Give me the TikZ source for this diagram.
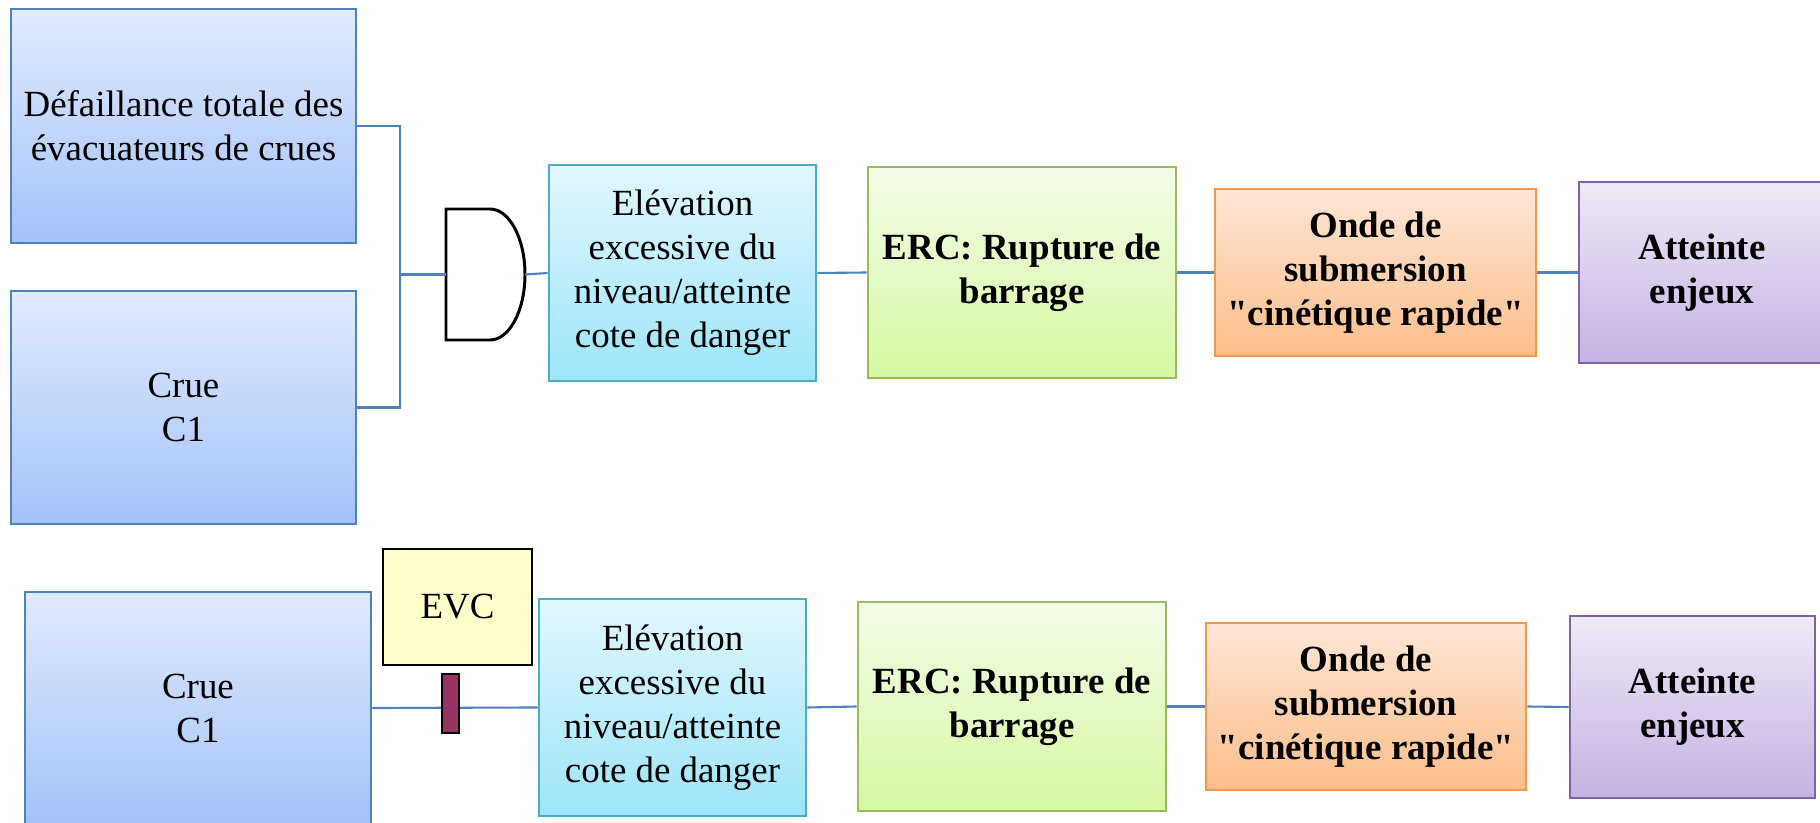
\documentclass[tikz,border=0pt]{standalone}
\usepackage{fontspec}
\setmainfont{Liberation Serif}[Ligatures=TeXOff]

\definecolor{bleuBord}{HTML}{4F81BD}
\definecolor{bleuHaut}{HTML}{E1EBFE}
\definecolor{bleuBas}{HTML}{A4C2F9}
\definecolor{cyanBord}{HTML}{4BACC6}
\definecolor{cyanHaut}{HTML}{E1F7FD}
\definecolor{cyanBas}{HTML}{9DE5FA}
\definecolor{vertBord}{HTML}{9BBB59}
\definecolor{vertHaut}{HTML}{F3FCE8}
\definecolor{vertBas}{HTML}{D6F8A2}
\definecolor{orangeBord}{HTML}{F79646}
\definecolor{orangeHaut}{HTML}{FFE6D6}
\definecolor{orangeBas}{HTML}{FBBE8A}
\definecolor{violetBord}{HTML}{8064A2}
\definecolor{violetHaut}{HTML}{EFE9F7}
\definecolor{violetBas}{HTML}{C5B2E3}
\definecolor{jaunePale}{HTML}{FFFFCC}
\definecolor{bordeaux}{HTML}{993366}

\begin{document}
\begin{tikzpicture}[
    every node/.style={font=\fontsize{10.5}{12.5}\selectfont, align=center, inner sep=0pt},
    evt/.style={draw, line width=0.75pt},
    gras/.style={font=\fontsize{10.5}{12.5}\selectfont\bfseries},
    boiteBleue/.style={evt, draw=bleuBord, top color=bleuHaut, bottom color=bleuBas},
    boiteCyan/.style={evt, draw=cyanBord, top color=cyanHaut, bottom color=cyanBas},
    boiteVerte/.style={evt, gras, draw=vertBord, top color=vertHaut, bottom color=vertBas},
    boiteOrange/.style={evt, gras, draw=orangeBord, top color=orangeHaut, bottom color=orangeBas},
    boiteViolette/.style={evt, gras, draw=violetBord, top color=violetHaut, bottom color=violetBas},
    lien/.style={draw=bleuBord, line width=0.6pt},
    porte/.style={draw=black, fill=white, line width=0.85pt}
  ]
    \useasboundingbox (0,0) rectangle (18.2,-8.23);

    % premiere chaine : porte ET
    \node[boiteBleue, minimum width=3.45cm, minimum height=2.34cm] (Def) at (1.835,-1.26) {Défaillance totale des\\évacuateurs de crues};
    \node[boiteBleue, minimum width=3.45cm, minimum height=2.33cm] (Crue1) at (1.835,-4.075) {Crue\\C1};

    \draw[porte] (4.46,-2.09) -- (4.90,-2.09) arc (90:-90:0.35 and 0.655) -- (4.46,-3.40) -- cycle;
    \coordinate (J) at (4.00,-2.745);
    \coordinate (Pin) at (4.46,-2.745);
    \coordinate (Pout) at (5.25,-2.745);

    \node[boiteCyan, minimum width=2.67cm, minimum height=2.16cm] (Elev1) at (6.825,-2.73) {Elévation\\excessive du\\niveau/atteinte\\cote de danger};
    \node[boiteVerte, minimum width=3.08cm, minimum height=2.11cm] (ERC1) at (10.22,-2.725) {ERC: Rupture de\\barrage};
    \node[boiteOrange, minimum width=3.21cm, minimum height=1.67cm] (Onde1) at (13.755,-2.725) {Onde de\\submersion\\"cinétique rapide"};
    \node[boiteViolette, minimum width=2.46cm, minimum height=1.81cm] (Att1) at (17.02,-2.725) {Atteinte\\enjeux};

    \draw[lien] (Def.east) -| (J) |- (Crue1.east);
    \draw[lien] (J) -- (Pin);
    \draw[lien] (Pout) -- (Elev1.west);
    \draw[lien] (Elev1.east) -- (ERC1.west);
    \draw[lien] (ERC1.east) -- (Onde1.west);
    \draw[lien] (Onde1.east) -- (Att1.west);

    % seconde chaine : barriere EVC
    \node[boiteBleue, minimum width=3.46cm, minimum height=2.32cm] (Crue2) at (1.98,-7.08) {Crue\\C1};
    \node[evt, draw=black, fill=jaunePale, minimum width=1.49cm, minimum height=1.16cm] (EVC) at (4.575,-6.07) {EVC};
    \node[boiteCyan, minimum width=2.67cm, minimum height=2.17cm] (Elev2) at (6.725,-7.075) {Elévation\\excessive du\\niveau/atteinte\\cote de danger};
    \node[boiteVerte, minimum width=3.08cm, minimum height=2.09cm] (ERC2) at (10.12,-7.065) {ERC: Rupture de\\barrage};
    \node[boiteOrange, minimum width=3.20cm, minimum height=1.67cm] (Onde2) at (13.66,-7.065) {Onde de\\submersion\\"cinétique rapide"};
    \node[boiteViolette, minimum width=2.45cm, minimum height=1.82cm] (Att2) at (16.925,-7.07) {Atteinte\\enjeux};

    \draw[lien] (Crue2.east) -- (Elev2.west);
    \draw[lien] (Elev2.east) -- (ERC2.west);
    \draw[lien] (ERC2.east) -- (Onde2.west);
    \draw[lien] (Onde2.east) -- (Att2.west);

    \node[draw=black, fill=bordeaux, line width=0.6pt, minimum width=0.17cm, minimum height=0.59cm] (Barr) at (4.505,-7.035) {};
\end{tikzpicture}
\end{document}
